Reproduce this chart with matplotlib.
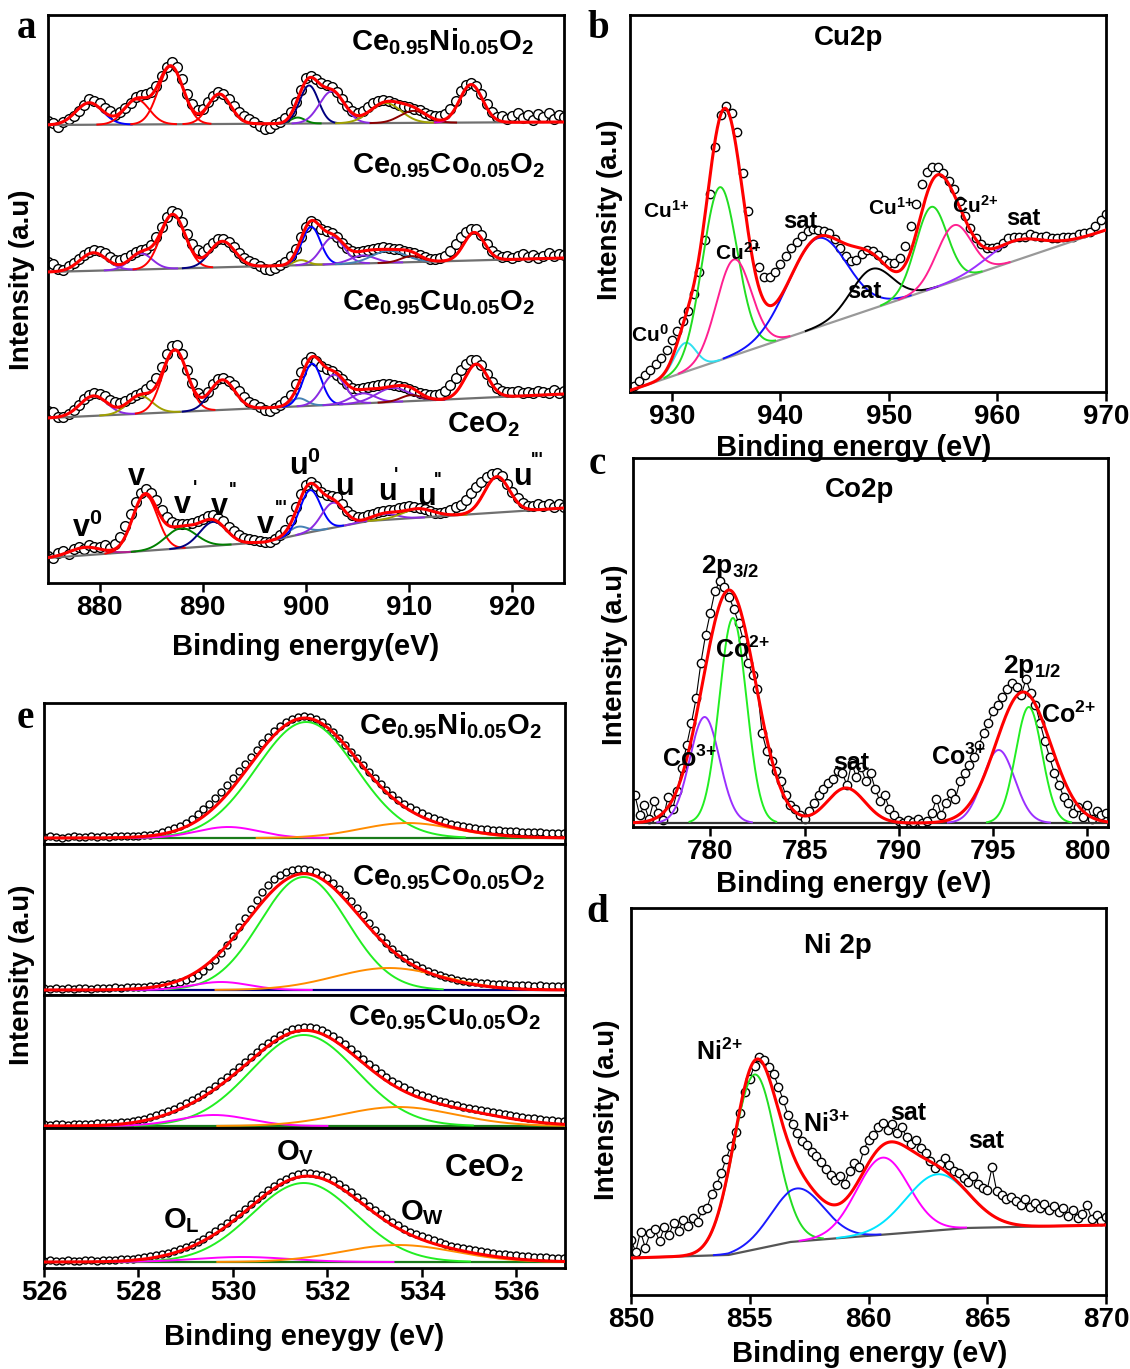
import numpy as np
import matplotlib
matplotlib.use('Agg')
import matplotlib.pyplot as plt

# Fonts: bold Arial-like text, mathtext in the same face for sub/superscripts
plt.rcParams['font.family'] = ['Liberation Sans', 'DejaVu Sans']
plt.rcParams['font.weight'] = 'bold'
plt.rcParams['mathtext.fontset'] = 'custom'
plt.rcParams['mathtext.rm'] = 'Liberation Sans:bold'
plt.rcParams['mathtext.it'] = 'Liberation Sans:bold'
plt.rcParams['mathtext.bf'] = 'Liberation Sans:bold'
plt.rcParams['axes.linewidth'] = 2.0

# ---------------- Panel a: Ce 3d (raw counts above background, 875-925 eV, 0.5 eV step)
ce3d_start, ce3d_step = 875.0, 0.5
ni_a_raw = [4, 2, -2, 3, 6, 9, 14, 20, 26, 24,
            22, 17, 14, 10, 13, 17, 22, 27, 29, 30,
            32, 38, 48, 57, 62, 57, 45, 30, 20, 14,
            15, 22, 28, 32, 30, 25, 18, 12, 8, 5,
            2, -2, -5, -4, 0, 2, 6, 12, 22, 34,
            46, 47, 44, 40, 38, 36, 31, 24, 17, 12,
            10, 12, 16, 20, 22, 23, 22, 20, 18, 17,
            16, 14, 13, 10, 8, 7, 7, 9, 14, 22,
            32, 38, 40, 37, 28, 18, 10, 5, 6, 3,
            6, 9, 4, 7, 2, 8, 5, 9, 3, 7,
            5]
co_a_raw = [10, 8, 3, 2, 5, 8, 12, 16, 19, 21,
            20, 17, 13, 10, 10, 12, 15, 18, 19, 20,
            24, 32, 42, 52, 58, 56, 46, 34, 24, 18,
            16, 20, 25, 28, 28, 25, 20, 14, 9, 6,
            3, 0, -3, -4, -2, 1, 4, 9, 16, 28,
            38, 44, 41, 36, 33, 31, 27, 21, 16, 13,
            12, 12, 13, 14, 15, 16, 15, 14, 13, 11,
            10, 9, 7, 5, 3, 3, 3, 5, 10, 17,
            24, 29, 32, 31, 25, 16, 9, 5, 3, 4,
            1, 3, 5, 2, 4, 1, 3, 5, 2, 4,
            3]
cu_a_raw = [7, 6, 1, 0, 3, 7, 12, 17, 21, 23,
            22, 19, 15, 13, 12, 13, 16, 19, 21, 24,
            28, 35, 46, 58, 66, 67, 58, 42, 28, 18,
            14, 19, 26, 31, 32, 29, 24, 18, 12, 7,
            4, 1, -2, -3, -1, 2, 6, 12, 22, 34,
            44, 49, 45, 39, 36, 34, 30, 25, 20, 16,
            15, 15, 16, 17, 18, 18, 18, 17, 16, 14,
            12, 10, 8, 6, 5, 5, 6, 9, 14, 21,
            29, 35, 38, 38, 33, 24, 15, 9, 6, 5,
            4, 5, 3, 4, 2, 4, 3, 2, 4, 1,
            3]
ceo2_a_raw = [2, 0, 4, 6, 3, 7, 9, 6, 10, 8,
              7, 9, 6, 9, 16, 26, 38, 50, 58, 62,
              58, 50, 40, 32, 27, 25, 24, 24, 24, 26,
              28, 30, 31, 28, 24, 18, 13, 9, 6, 4,
              3, 1, 0, -1, 1, 4, 8, 16, 28, 40,
              48, 50, 45, 38, 34, 32, 30, 22, 14, 9,
              6, 5, 6, 7, 8, 9, 10, 9, 11, 12,
              12, 11, 10, 8, 6, 4, 3, 4, 6, 8,
              10, 15, 21, 27, 32, 36, 39, 40, 36, 28,
              20, 13, 8, 5, 4, 6, 3, 5, 2, 4,
              1]
# backgrounds (energy knots, level incl. stacking offset)
ni_a_bg = ([875, 925], [458, 461])
co_a_bg = ([875, 925], [311, 325])
cu_a_bg = ([875, 925], [165, 189])
ceo2_a_bg = ([875, 887, 896, 900, 903, 906, 912, 918, 925], [25, 34, 41, 50, 56, 62, 66, 70, 75])
# fitted peaks (center eV, height, sigma eV)
ni_a_peaks = [(879.0, 22, 1.3), (883.6, 25, 1.2), (886.9, 58, 1.2), (891.6, 30, 1.1), (899.2, 6, 0.7),
              (900.3, 38, 0.9), (902.5, 32, 1.2), (907.7, 20, 1.5), (910.4, 12, 1.3), (916.0, 38, 1.1)]
co_a_peaks = [(879.4, 18, 1.3), (884.0, 16, 1.1), (887.1, 54, 1.2), (891.9, 26, 1.2), (899.5, 5, 0.7),
              (900.5, 38, 0.9), (902.6, 27, 1.1), (905.5, 8, 1.2), (908.0, 12, 1.6), (910.2, 6, 1.0),
              (916.3, 28, 1.0)]
cu_a_peaks = [(879.4, 20, 1.3), (883.9, 18, 1.2), (887.3, 62, 1.2), (891.9, 30, 1.2), (899.3, 8, 0.8),
              (900.6, 42, 0.9), (902.7, 30, 1.1), (905.5, 10, 1.2), (908.4, 14, 1.6), (910.2, 6, 1.0),
              (916.5, 34, 1.1)]
ceo2_a_peaks = [(878.6, 8, 1.5), (884.4, 56, 1.2), (887.9, 20, 1.5), (891.0, 24, 1.3), (899.2, 8, 0.9),
                (900.4, 42, 1.0), (902.6, 25, 1.1), (907.6, 6, 1.2), (910.8, 9, 1.5), (918.5, 36, 1.2)]

# ---------------- Panel b: Cu 2p (926-970 eV, 0.5 eV step)
cu2p_start, cu2p_step = 926.0, 0.5
cu2p_raw = [0, 3, 6, 10, 14, 18, 22, 28, 36, 44,
            52, 60, 75, 95, 125, 170, 215, 245, 252, 243,
            222, 180, 140, 105, 80, 68, 66, 70, 76, 82,
            88, 92, 96, 100, 100, 97, 94, 90, 82, 72,
            62, 55, 54, 58, 60, 58, 52, 45, 40, 38,
            42, 52, 70, 90, 108, 118, 122, 120, 112, 102,
            92, 78, 62, 48, 36, 28, 22, 20, 20, 22,
            25, 24, 22, 20, 22, 18, 15, 14, 10, 8,
            8, 6, 4, 5, 4, 3, 8, 12, 16]
cu2p_bg = ([926.13, 970], [1.5, 162])
cu2p_peaks = [(931.2, 29, 1.0), (934.4, 173, 1.6), (935.7, 96, 1.6), (943.4, 89, 2.7),
              (948.4, 40, 1.9), (953.9, 82, 1.45), (956.0, 56, 1.6), (961.5, 20, 2.5)]

# ---------------- Panel c: Co 2p (776-801 eV, 0.25 eV step)
co2p_start, co2p_step = 776.0, 0.25
co2p_raw = [28, 8, 18, 4, 22, 10, 3, 26, 14, 32,
            55, 78, 100, 125, 160, 188, 210, 232, 242, 236,
            226, 214, 200, 183, 160, 148, 134, 90, 72, 62,
            52, 42, 28, 18, 14, 8, 4, 12, 20, 28,
            34, 40, 44, 52, 50, 38, 60, 46, 56, 42,
            50, 34, 22, 28, 14, 8, 2, 0, 3, 1,
            4, 0, 2, 10, 24, 8, 20, 30, 24, 42,
            50, 58, 66, 78, 90, 100, 112, 118, 126, 134,
            140, 136, 128, 144, 130, 118, 100, 82, 66, 50,
            38, 26, 20, 10, 16, 6, 18, 4, 12, 8,
            10]
co2p_bg = ([775.9, 801.1], [4, 4])
co2p_peaks = [(779.7, 106, 0.79), (781.2, 205, 0.72), (795.3, 73, 0.85), (796.9, 116, 0.7)]
co2p_envelope = [(781.0, 233, 1.4), (787.2, 35, 1.0), (796.6, 131, 1.45)]

# ---------------- Panel d: Ni 2p (850-870 eV, 0.2 eV step)
ni2p_start, ni2p_step = 850.0, 0.2
ni2p_raw = [18, 6, 26, 10, 24, 28, 16, 30, 22, 34,
            26, 36, 30, 38, 34, 46, 48, 62, 70, 82,
            96, 108, 122, 140, 160, 172, 184, 192, 188, 180,
            172, 158, 144, 128, 118, 108, 100, 96, 88, 84,
            78, 70, 64, 58, 62, 54, 66, 74, 70, 86,
            96, 100, 108, 112, 104, 110, 100, 106, 96, 88,
            92, 84, 78, 70, 62, 66, 72, 64, 58, 56,
            50, 46, 52, 44, 40, 38, 60, 36, 32, 28,
            30, 26, 22, 28, 20, 24, 18, 22, 16, 20,
            14, 18, 10, 16, 8, 12, 20, 6, 10, 4,
            8]
ni2p_bg = ([850, 854.1, 856.7, 860.4, 864.1, 870], [37, 40, 53, 60, 67, 70])
ni2p_peaks = [(855.2, 175, 0.9), (857.0, 53, 1.1), (860.6, 77, 1.1), (862.9, 56, 1.32)]

# ---------------- Panel e: O 1s (526-537 eV, 0.125 eV step)
o1s_start, o1s_step = 526.0, 0.125
ni_e_raw = [1, 2, 1, 0, 1, 2, 1, 1, 2, 1, 2, 1, 2, 2, 2, 2,
            2, 3, 3, 4, 6, 8, 10, 12, 15, 19, 24, 29, 34, 40, 46, 53,
            60, 67, 74, 81, 88, 95, 101, 107, 112, 116, 119, 121, 122, 121, 119, 116,
            111, 106, 100, 93, 86, 80, 73, 66, 60, 54, 48, 43, 38, 34, 31, 28,
            25, 22, 20, 18, 16, 14, 13, 12, 11, 10, 9, 9, 8, 8, 7, 7,
            7, 6, 6, 6, 6, 5, 5, 5, 5]
co_e_raw = [2, 1, 2, 1, 2, 1, 2, 2, 1, 2, 2, 2, 3, 2, 3, 3,
            3, 3, 4, 4, 5, 6, 7, 8, 10, 12, 15, 19, 24, 30, 37, 45,
            54, 63, 72, 81, 90, 98, 105, 111, 115, 118, 120, 121, 121, 120, 118, 115,
            112, 107, 101, 95, 89, 82, 75, 67, 60, 53, 47, 41, 36, 32, 28, 25,
            22, 19, 17, 15, 13, 12, 10, 9, 8, 8, 7, 7, 6, 6, 6, 5,
            5, 5, 5, 4, 5, 4, 4, 4, 4]
cu_e_raw = [2, 1, 2, 2, 1, 2, 2, 2, 2, 3, 3, 3, 3, 4, 4, 5,
            6, 7, 9, 11, 13, 15, 17, 20, 23, 26, 29, 32, 36, 40, 45, 49,
            54, 59, 64, 69, 74, 79, 83, 87, 91, 94, 97, 98, 99, 99, 98, 96,
            93, 90, 86, 82, 77, 72, 67, 62, 58, 53, 49, 45, 42, 39, 36, 33,
            31, 29, 27, 25, 24, 22, 21, 19, 18, 17, 16, 15, 14, 13, 12, 11,
            10, 9, 8, 8, 7, 6, 6, 5, 5]
ceo2_e_raw = [1, 2, 1, 1, 2, 1, 1, 2, 2, 1, 2, 2, 2, 3, 3, 3,
              4, 5, 6, 7, 8, 9, 11, 13, 15, 17, 20, 23, 27, 31, 35, 39,
              44, 48, 53, 58, 63, 67, 72, 76, 80, 83, 86, 88, 89, 89, 88, 87,
              85, 82, 78, 74, 70, 65, 61, 56, 52, 48, 44, 40, 37, 33, 30, 28,
              26, 24, 22, 20, 18, 16, 15, 14, 13, 12, 11, 10, 9, 8, 8, 7,
              7, 6, 6, 5, 5, 5, 4, 4, 4]
o1s_baselines = [6, 5, 2, 6]
ni_e_peaks = [(531.55, 116, 1.05), (529.9, 11, 0.66), (533.7, 15, 1.0)]
co_e_peaks = [(531.5, 113, 0.92), (529.75, 8, 0.6), (533.3, 22, 1.15)]
cu_e_peaks = [(531.5, 91, 1.12), (529.6, 11, 0.75), (533.5, 19, 1.2)]
ceo2_e_peaks = [(531.5, 79, 1.1), (530.2, 5, 1.0), (533.5, 17, 1.2)]
ni_e_env = [(531.5, 119, 1.15), (533.9, 10, 1.1)]
co_e_env = [(531.5, 116, 1.18), (534.0, 8, 1.0)]
cu_e_env = [(531.5, 93, 1.2), (529.4, 10, 0.9), (534.2, 17, 1.3)]
ceo2_e_env = [(531.55, 84, 1.2), (529.5, 5, 0.9), (534.0, 12, 1.2)]

sample_names = [r'Ce$_{0.95}$Ni$_{0.05}$O$_2$', r'Ce$_{0.95}$Co$_{0.05}$O$_2$',
                r'Ce$_{0.95}$Cu$_{0.05}$O$_2$', r'CeO$_2$']

# ---------------- helpers
W, H = 1130, 1369
fig = plt.figure(figsize=(W / 100, H / 100), dpi=100)


def add_box(left, top, right, bottom):
    # axes placed by pixel edges of the figure
    return fig.add_axes([left / W, 1 - bottom / H, (right - left) / W, (bottom - top) / H])


def put_text(x, y, s, size, ha='left', va='baseline', **kw):
    fig.text(x / W, 1 - y / H, s, fontsize=size, fontweight='bold', ha=ha, va=va, **kw)


def gauss(x, c, h, w):
    return h * np.exp(-(x - c) ** 2 / (2 * w * w))


def style_axis(ax, xlim, ylim, ticks):
    ax.set_xlim(*xlim)
    ax.set_ylim(*ylim)
    ax.set_yticks([])
    ax.set_xticks(ticks)
    ax.tick_params(axis='x', direction='out', length=6.5, width=1.8, labelsize=20, pad=2)


def draw_spectrum(ax, start, step, raw, bg, peaks, colors, env, bg_color, ms, joined=False):
    xl = ax.get_xlim()
    x = np.linspace(xl[0], xl[1], 900)
    base = np.interp(x, bg[0], bg[1])
    e_raw = start + step * np.arange(len(raw))
    y_raw = np.interp(e_raw, bg[0], bg[1]) + np.array(raw)
    if joined:
        ax.plot(e_raw, y_raw, color='black', lw=0.8, zorder=2)
    ax.plot(e_raw, y_raw, 'o', ms=ms, mfc='white', mec='black', mew=1.0, zorder=2)
    ax.plot(x, base, color=bg_color, lw=1.6, zorder=3)
    for (c, h, w), col in zip(peaks, colors):
        m = np.abs(x - c) < 3.2 * w
        ax.plot(x[m], base[m] + gauss(x[m], c, h, w), color=col, lw=1.4, zorder=3)
    total = base.copy()
    for c, h, w in env:
        total += gauss(x, c, h, w)
    ax.plot(x, total, color='red', lw=2.2, zorder=4)


# ---------------- panel a
ax = add_box(48, 15, 564, 583)
style_axis(ax, (875, 925), (0, 568), [880, 890, 900, 910, 920])
viol = '#8a2be2'
olive = '#a0a000'
draw_spectrum(ax, ce3d_start, ce3d_step, ni_a_raw, ni_a_bg, ni_a_peaks,
              ['blue', 'red', 'red', 'red', 'green', 'navy', viol, olive, 'darkred', '#d000d0'],
              ni_a_peaks, '#707070', 7)
draw_spectrum(ax, ce3d_start, ce3d_step, co_a_raw, co_a_bg, co_a_peaks,
              [viol, viol, 'red', 'navy', olive, 'blue', viol, viol, 'steelblue', 'darkred', 'red'],
              co_a_peaks, '#707070', 7)
draw_spectrum(ax, ce3d_start, ce3d_step, cu_a_raw, cu_a_bg, cu_a_peaks,
              [viol, olive, 'red', 'navy', 'steelblue', 'blue', viol, viol, viol, 'darkred', 'red'],
              cu_a_peaks, '#707070', 7)
draw_spectrum(ax, ce3d_start, ce3d_step, ceo2_a_raw, ceo2_a_bg, ceo2_a_peaks,
              ['#b0208f', 'red', 'green', 'navy', 'steelblue', 'blue', viol, viol, olive, 'red'],
              ceo2_a_peaks, '#707070', 7)
put_text(443, 50, sample_names[0], 21, ha='center')
put_text(449, 173, sample_names[1], 21, ha='center')
put_text(439, 310, sample_names[2], 21, ha='center')
put_text(483, 432, sample_names[3], 21, ha='center')
# peak names for CeO2
put_text(72, 537, r'v$^0$', 22)
put_text(128, 485, 'v', 22)
put_text(174, 513, 'v', 22)
put_text(193, 493, "'", 13)
put_text(211, 515, 'v', 22)
put_text(229, 495, "''", 13)
put_text(257, 533, 'v', 22)
put_text(275, 513, "'''", 13)
put_text(289, 475, r'u$^0$', 22)
put_text(335, 495, 'u', 22)
put_text(378, 500, 'u', 22)
put_text(394, 480, "'", 13)
put_text(417, 505, 'u', 22)
put_text(434, 485, "''", 13)
put_text(513, 485, 'u', 22)
put_text(531, 465, "'''", 13)
put_text(306, 655, 'Binding energy(eV)', 21, ha='center')
put_text(22, 280, 'Intensity (a.u)', 20, ha='center', va='center', rotation=90)

# ---------------- panel b
ax = add_box(630, 15, 1106, 392)
style_axis(ax, (926.13, 970), (0, 377), [930, 940, 950, 960, 970])
draw_spectrum(ax, cu2p_start, cu2p_step, cu2p_raw, cu2p_bg, cu2p_peaks,
              ['#30e0f0', '#22dd22', '#ff2090', '#1010ff', 'black', '#22dd22', '#ff2090', '#9b30ff'],
              cu2p_peaks, '#999999', 6)
put_text(849, 45, 'Cu2p', 20, ha='center')
put_text(643, 218, r'Cu$^{1\!+}$', 15)
put_text(715, 260, r'Cu$^{2\!+}$', 15)
put_text(783, 228, 'sat', 17)
put_text(868, 215, r'Cu$^{1\!+}$', 15)
put_text(952, 213, r'Cu$^{2\!+}$', 15)
put_text(1006, 225, 'sat', 17)
put_text(847, 298, 'sat', 17)
put_text(631, 342, r'Cu$^0$', 15)
put_text(854, 456, 'Binding energy (eV)', 21, ha='center')
put_text(610, 210, 'Intensity (a.u)', 20, ha='center', va='center', rotation=90)

# ---------------- panel c
ax = add_box(633, 458, 1108, 827)
style_axis(ax, (775.9, 801.1), (0, 369), [780, 785, 790, 795, 800])
draw_spectrum(ax, co2p_start, co2p_step, co2p_raw, co2p_bg, co2p_peaks,
              ['#9b30ff', '#22ee22', '#9b30ff', '#22ee22'],
              co2p_envelope, '#333333', 6, joined=True)
put_text(860, 497, 'Co2p', 20, ha='center')
put_text(701, 573, r'2p$_{3/2}$', 19)
put_text(715, 658, r'Co$^{2\!+}$', 18)
put_text(662, 767, r'Co$^{3\!+}$', 18)
put_text(833, 770, 'sat', 18)
put_text(931, 765, r'Co$^{3\!+}$', 18)
put_text(1003, 673, r'2p$_{1/2}$', 19)
put_text(1041, 723, r'Co$^{2\!+}$', 18)
put_text(854, 892, 'Binding energy (eV)', 21, ha='center')
put_text(615, 655, 'Intensity (a.u)', 20, ha='center', va='center', rotation=90)

# ---------------- panel d
ax = add_box(631, 908, 1106, 1295)
style_axis(ax, (850, 870), (0, 387), [850, 855, 860, 865, 870])
draw_spectrum(ax, ni2p_start, ni2p_step, ni2p_raw, ni2p_bg, ni2p_peaks,
              ['#22dd22', '#1a1aff', '#ff00ff', '#00e5ff'],
              ni2p_peaks, '#555555', 6, joined=True)
put_text(838, 953, 'Ni 2p', 20, ha='center')
put_text(696, 1060, r'Ni$^{2\!+}$', 18)
put_text(803, 1132, r'Ni$^{3\!+}$', 18)
put_text(890, 1120, 'sat', 18)
put_text(968, 1148, 'sat', 18)
put_text(870, 1362, 'Binding energy (eV)', 21, ha='center')
put_text(607, 1110, 'Intensity (a.u)', 20, ha='center', va='center', rotation=90)

# ---------------- panel e (four stacked O 1s spectra)
tops = [703, 844, 995, 1128]
bottoms = [844, 995, 1128, 1268]
raws = [ni_e_raw, co_e_raw, cu_e_raw, ceo2_e_raw]
peaks_e = [ni_e_peaks, co_e_peaks, cu_e_peaks, ceo2_e_peaks]
envs_e = [ni_e_env, co_e_env, cu_e_env, ceo2_e_env]
base_cols = ['#1a7a1a', 'navy', '#1a7a1a', '#1a7a1a']
for i in range(4):
    ax = add_box(44, tops[i], 565, bottoms[i])
    style_axis(ax, (526, 537.03), (0, bottoms[i] - tops[i]), [526, 528, 530, 532, 534, 536])
    if i < 3:
        ax.tick_params(axis='x', bottom=False, labelbottom=False)
    lvl = o1s_baselines[i]
    draw_spectrum(ax, o1s_start, o1s_step, raws[i], ([526, 537.03], [lvl, lvl]), peaks_e[i],
                  ['#22ee22', '#ff00ff', '#ff8c00'], envs_e[i], base_cols[i], 5)
put_text(451, 734, sample_names[0], 21, ha='center')
put_text(449, 885, sample_names[1], 21, ha='center')
put_text(445, 1025, sample_names[2], 21, ha='center')
put_text(484, 1177, sample_names[3], 23, ha='center')
put_text(276, 1160, r'O$_V$', 21)
put_text(163, 1228, r'O$_L$', 21)
put_text(400, 1220, r'O$_W$', 21)
put_text(304, 1345, 'Binding eneygy (eV)', 21, ha='center')
put_text(22, 975, 'Intensity (a.u)', 20, ha='center', va='center', rotation=90)

# panel letters
for letter, x, y in [('a', 27, 28), ('b', 598, 28), ('c', 597, 465), ('d', 597, 912), ('e', 25, 718)]:
    fig.text(x / W, 1 - y / H, letter, fontsize=28, fontweight='bold', family='Liberation Serif',
             ha='center', va='center')

fig.savefig('out.png', dpi=100)
